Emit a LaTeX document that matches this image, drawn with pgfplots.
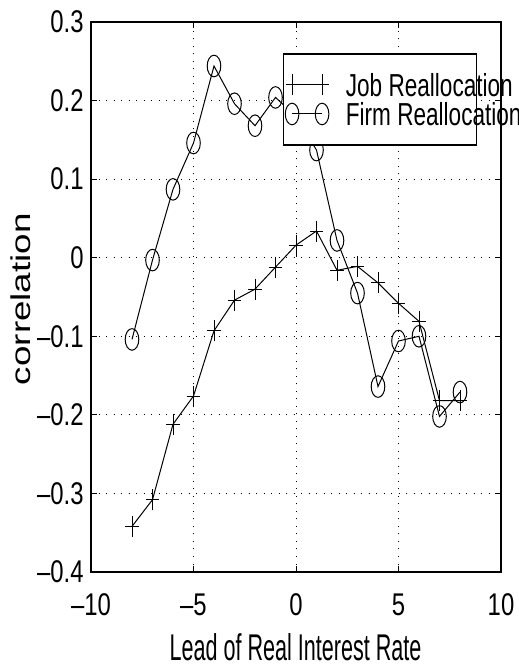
\documentclass[border=0pt]{standalone}
\usepackage{fontspec}
\setmainfont{Liberation Sans}
\newfontfamily\tickfont{Liberation Sans}[FakeStretch=0.76]
\newfontfamily\labfont{Liberation Sans}[FakeStretch=0.58]
\newfontfamily\legfont{Liberation Sans}[FakeStretch=0.71]
\newfontfamily\ylabfont{Liberation Sans}
\usepackage{pgfplots}
\usepackage{pgfplotstable}
\pgfplotsset{compat=1.18}

% lead, job reallocation corr, firm reallocation corr
\pgfplotstableread{
lead job firm
-8 -0.342 -0.104
-7 -0.308 -0.003
-6 -0.212 0.087
-5 -0.176 0.146
-4 -0.093 0.244
-3 -0.054 0.196
-2 -0.040 0.168
-1 -0.012 0.204
0 0.016 0.180
1 0.034 0.137
2 -0.016 0.022
3 -0.011 -0.045
4 -0.032 -0.164
5 -0.058 -0.106
6 -0.081 -0.100
7 -0.182 -0.202
8 -0.182 -0.171
}\corrtable

\begin{document}
\begin{tikzpicture}
\useasboundingbox (0,0) rectangle (259.5bp,334.5bp);
\begin{axis}[
    at={(45.5bp,48.5bp)}, anchor=south west,
    scale only axis,
    width=205bp, height=275bp,
    xmin=-10, xmax=10,
    ymin=-0.4, ymax=0.3,
    xtick={-10,-5,0,5,10},
    xticklabels={–10,–5,0,5,10},
    ytick={-0.4,-0.3,-0.2,-0.1,0,0.1,0.2,0.3},
    yticklabels={–0.4,–0.3,–0.2,–0.1,0,0.1,0.2,0.3},
    tick label style={font=\tickfont\fontsize{15.7bp}{18bp}\selectfont, black},
    xticklabel style={anchor=base, yshift=-21.5bp},
    yticklabel style={inner xsep=3.5bp},
    tick align=inside,
    major tick length=3bp,
    tick style={black, line width=0.5bp},
    axis line style={black, line width=1bp},
    grid=major,
    major grid style={black, line width=0.5bp, dash pattern=on 0.5bp off 3.25bp},
    xlabel={Lead of Real Interest Rate},
    xlabel style={font=\labfont\fontsize{18.6bp}{21bp}\selectfont,
                  at={(axis description cs:0.499,-0.16)}, anchor=base},
    ylabel={correlation},
    ylabel style={font=\ylabfont\fontsize{18.4bp}{20bp}\selectfont, yscale=0.74,
                  at={(axis description cs:-0.171,0.496)}, anchor=center},
    legend cell align=left,
    legend image code/.code={
        \draw[#1] plot coordinates {(0bp,0bp) (15bp,0bp)};
    },
    legend style={at={(0.468,0.9436)}, anchor=north west,
        draw=black, line width=0.8bp, fill=white,
        inner xsep=0.8bp, inner ysep=9.8bp,
        nodes={inner sep=0pt, text depth=0pt},
        column sep=8.5bp, row sep=3bp,
        font=\legfont\fontsize{15.9bp}{18bp}\selectfont},
]
\addplot[black, line width=0.5bp, mark=+, mark size=5.25bp,
         mark options={xscale=0.62, solid}]
    table[x=lead, y=job] {\corrtable};
\addlegendentry{\makebox[64.5bp][l]{Job Reallocation}}
\addplot[black, line width=0.5bp, mark=o, mark size=5.4bp,
         mark options={xscale=0.63, solid}]
    table[x=lead, y=firm] {\corrtable};
\addlegendentry{\makebox[64.5bp][l]{Firm Reallocation}}
\end{axis}
\end{tikzpicture}
\end{document}
